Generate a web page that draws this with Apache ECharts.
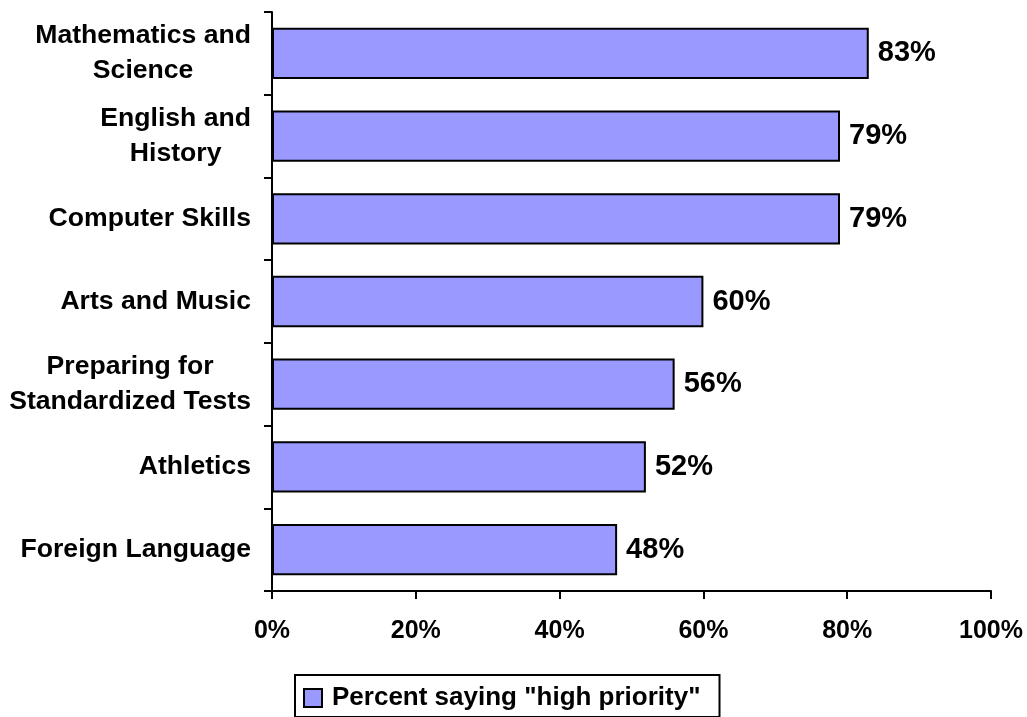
<!DOCTYPE html>
<html>
<head>
<meta charset="utf-8">
<script src="https://cdn.jsdelivr.net/npm/echarts@6/dist/echarts.min.js"></script>
<style>
  html, body { margin: 0; padding: 0; background: #fff; }
  #chart { width: 1027px; height: 717px; }
</style>
</head>
<body>
<div id="chart"></div>
<script>
// Subjects, listed top to bottom
const categories = [
  'Mathematics and\nScience',
  'English and\nHistory',
  'Computer Skills',
  'Arts and Music',
  'Preparing for\nStandardized Tests',
  'Athletics',
  'Foreign Language'
];
// Share of respondents calling each a "high priority" (%)
const values = [83, 79, 79, 60, 56, 52, 48];
const seriesName = 'Percent saying "high priority"';
const xTicks = { min: 0, max: 100, step: 20 };

const FONT = '"Liberation Sans", Arial, Helvetica, sans-serif';

const chart = echarts.init(document.getElementById('chart'), null, { renderer: 'canvas' });

chart.setOption({
  backgroundColor: '#ffffff',
  animation: false,
  grid: { left: 272, right: 36, top: 12, bottom: 126, containLabel: false },
  xAxis: {
    type: 'value',
    min: xTicks.min,
    max: xTicks.max,
    interval: xTicks.step,
    axisLine: { show: true, lineStyle: { color: '#000', width: 2 } },
    axisTick: { show: true, length: 8, lineStyle: { color: '#000', width: 2 } },
    splitLine: { show: false },
    axisLabel: {
      formatter: '{value}%',
      margin: 28,
      color: '#000',
      fontFamily: FONT,
      fontWeight: 'bold',
      fontSize: 25
    }
  },
  yAxis: {
    type: 'category',
    data: categories,
    inverse: true,
    axisLine: { show: true, lineStyle: { color: '#000', width: 2 } },
    axisTick: { show: true, length: 8, lineStyle: { color: '#000', width: 2 } },
    axisLabel: {
      margin: 21,
      formatter: v => '{c|' + v.split('\n').join('}\n{c|') + '}',
      rich: {
        c: {
          color: '#000',
          fontFamily: FONT,
          fontWeight: 'bold',
          fontSize: 26.6,
          lineHeight: 35,
          align: 'center'
        }
      }
    }
  },
  legend: {
    left: 295,
    top: 675,
    orient: 'horizontal',
    icon: 'rect',
    itemWidth: 18,
    itemHeight: 18,
    padding: [10, 19, 6, 8],
    borderColor: '#000',
    borderWidth: 2,
    borderRadius: 0,
    backgroundColor: '#fff',
    textStyle: {
      color: '#000',
      fontFamily: FONT,
      fontWeight: 'bold',
      fontSize: 26,
      padding: [0, 0, 0, 5]
    },
    data: [seriesName]
  },
  series: [{
    name: seriesName,
    type: 'bar',
    data: values,
    barWidth: '62%',
    itemStyle: { color: '#9999ff', borderColor: '#000', borderWidth: 2 },
    label: {
      show: true,
      position: 'right',
      distance: 9,
      formatter: '{c}%',
      color: '#000',
      fontFamily: FONT,
      fontWeight: 'bold',
      fontSize: 29
    }
  }]
});
</script>
</body>
</html>
